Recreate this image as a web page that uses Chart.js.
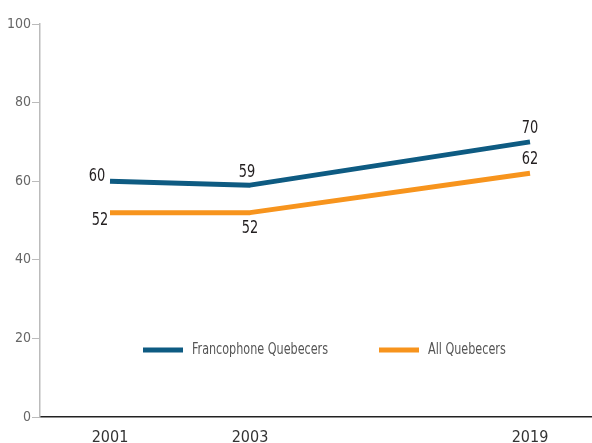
<!DOCTYPE html>
<html>
<head>
<meta charset="utf-8">
<script src="https://cdn.jsdelivr.net/npm/chart.js@4"></script>
<style>
  html, body { margin: 0; padding: 0; background: #fff; overflow: hidden; }
</style>
</head>
<body>
<canvas id="myChart" width="600" height="443"></canvas>
<script>
"use strict";

// data
const years = ["2001", "2003", "", "2019"]; // blank slot keeps 2003-2019 gap wider
const francophone = [60, 59, null, 70];
const allQuebecers = [52, 52, null, 62];
const seriesNames = ["Francophone Quebecers", "All Quebecers"];
const yTicks = [0, 20, 40, 60, 80, 100];

const FONT = '"DejaVu Sans Condensed", "DejaVu Sans", sans-serif';
const BLUE = "#0e5b82";
const ORANGE = "#f7941d";

// draw text squeezed sideways to look like a condensed face
function narrowText(ctx, text, x, y, squeeze) {
  ctx.save();
  ctx.translate(x, y);
  ctx.scale(squeeze, 1);
  ctx.fillText(text, 0, 0);
  ctx.restore();
}

// value labels next to each point, offsets in px
const pointLabels = {
  id: "pointLabels",
  afterDatasetsDraw(chart) {
    const ctx = chart.ctx;
    ctx.save();
    ctx.font = "18px " + FONT;
    ctx.fillStyle = "#231f20";
    ctx.textAlign = "center";
    ctx.textBaseline = "middle";
    chart.data.datasets.forEach(function (ds, i) {
      const meta = chart.getDatasetMeta(i);
      let k = 0;
      meta.data.forEach(function (pt, j) {
        const v = ds.data[j];
        if (v === null) return;
        const off = ds.labelOffsets[k++];
        narrowText(ctx, String(v), pt.x + off[0], pt.y + off[1], 0.8);
      });
    });
    ctx.restore();
  },
};

// legend drawn inside the plot
const innerLegend = {
  id: "innerLegend",
  afterDraw(chart) {
    const ctx = chart.ctx;
    const y = chart.chartArea.bottom - 67;
    const items = [
      { x: 143, ds: chart.data.datasets[0] },
      { x: 379, ds: chart.data.datasets[1] },
    ];
    ctx.save();
    items.forEach(function (it) {
      ctx.strokeStyle = it.ds.borderColor;
      ctx.lineWidth = 5;
      ctx.beginPath();
      ctx.moveTo(it.x, y);
      ctx.lineTo(it.x + 40, y);
      ctx.stroke();
      ctx.font = "15px " + FONT;
      ctx.fillStyle = "#555";
      ctx.textAlign = "left";
      ctx.textBaseline = "middle";
      narrowText(ctx, it.ds.label, it.x + 49, y, 0.83);
    });
    ctx.restore();
  },
};

const data = {
  labels: years,
  datasets: [
    {
      label: seriesNames[0],
      data: francophone,
      borderColor: BLUE,
      labelOffsets: [[-13, -5], [-3, -13], [0, -14]],
    },
    {
      label: seriesNames[1],
      data: allQuebecers,
      borderColor: ORANGE,
      labelOffsets: [[-10, 8], [0, 16], [0, -14]],
    },
  ],
};

const config = {
  type: "line",
  data,
  options: {
    responsive: false,
    animation: false,
    spanGaps: true,
    layout: { padding: { top: 24, right: 0, left: 0, bottom: 0 } },
    elements: {
      line: { borderWidth: 5, tension: 0, borderCapStyle: "butt", borderJoinStyle: "round" },
      point: { radius: 0, hoverRadius: 0 },
    },
    plugins: {
      legend: { display: false },
      tooltip: { enabled: false },
    },
    scales: {
      x: {
        offset: true,
        grid: { display: false },
        border: { display: true, color: "#222", width: 1.5 },
        ticks: { color: "#333", padding: 3, maxRotation: 0, font: { family: FONT, size: 16 } },
        afterFit(scale) {
          scale.height = 26;
        },
      },
      y: {
        min: 0,
        max: 100,
        afterBuildTicks(scale) {
          scale.ticks = yTicks.map((v) => ({ value: v }));
        },
        afterFit(scale) {
          scale.width = 40;
        },
        grid: { drawOnChartArea: false, drawTicks: true, tickLength: 8, color: "#bbb" },
        border: { display: true, color: "#bbb", width: 1.5 },
        ticks: { color: "#666", padding: 1, font: { family: FONT, size: 14 } },
      },
    },
  },
  plugins: [pointLabels, innerLegend],
};

new Chart(document.getElementById("myChart"), config);
</script>
</body>
</html>
